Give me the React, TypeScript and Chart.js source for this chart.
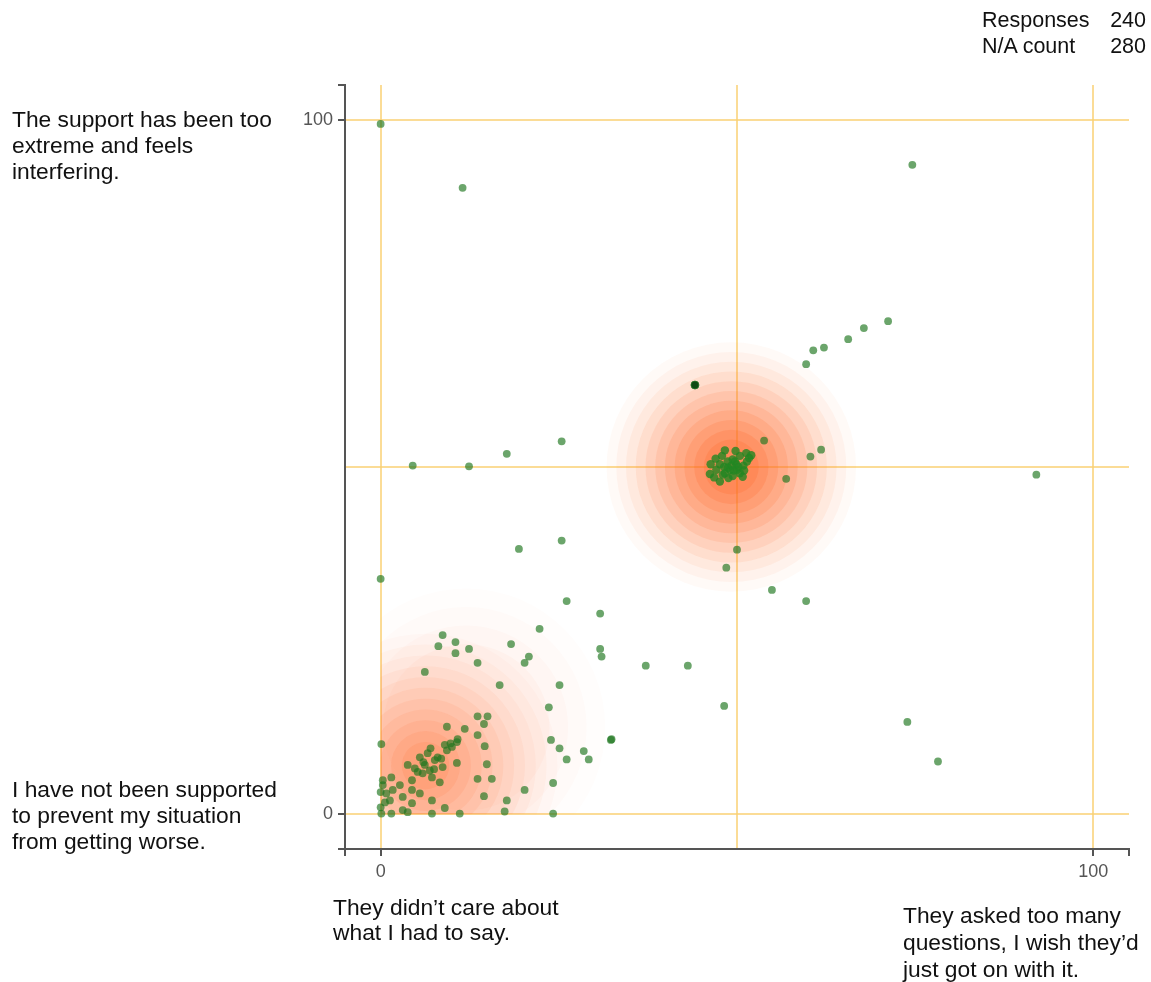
import React, { useEffect, useRef } from "react";
import { Chart, registerables } from "chart.js";

Chart.register(...registerables);

// ---------- data ----------
const spreadX = [0, 11.5, 74.6, 71.2, 67.8, 65.6, 62.2, 60.7, 59.7, 53.8, 61.8, 60.3, 56.9, 50.0, 48.5, 54.9, 59.7, 92.0, 73.9, 78.2, 48.2, 43.1, 37.2, 32.3, 30.8, 30.8, 31.0, 26.1, 25.4, 19.4, 25.4, 17.7, 12.4, 4.5, 0, 22.3, 18.3, 20.8, 20.2, 8.7, 8.1, 10.5, 10.5, 12.4, 13.6, 6.2, 16.7, 25.1, 23.6, 23.9, 25.1, 26.1, 28.5, 29.2, 32.4, 24.2, 20.2, 17.7, 17.4, 24.2];
const spreadY = [99.4, 90.2, 93.5, 71.0, 70.0, 68.4, 67.2, 66.8, 64.8, 53.8, 52.5, 51.5, 48.3, 38.1, 35.5, 32.3, 30.7, 48.9, 13.3, 7.6, 15.6, 21.4, 21.4, 10.7, 28.9, 23.8, 22.7, 30.7, 39.4, 38.2, 53.7, 51.9, 50.1, 50.2, 33.9, 26.7, 24.5, 22.7, 21.8, 25.8, 24.2, 24.8, 23.2, 23.8, 21.8, 20.5, 18.6, 18.6, 15.4, 10.7, 9.5, 7.9, 9.1, 7.9, 10.8, 4.5, 3.5, 2.0, 0.4, 0.1];

const lowClusterX = [13.6, 15.0, 14.5, 9.3, 11.8, 13.6, 10.8, 9.8, 14.6, 0.1, 14.9, 13.6, 15.6, 14.5, 5.2, 5.9, 7.2, 8.3, 7.6, 6.6, 9.3, 10.7, 10.0, 10.7, 8.7, 5.5, 4.4, 3.8, 2.7, 1.5, 0.3, 1.7, 3.1, 4.4, 5.5, 7.2, 4.4, 3.1, 3.8, 7.2, 9.0, 11.1, 1.5, 0.1, 0, 0.6, 0.8, 0, 0.3, 1.3, 6.2, 6.9, 4.8, 8.0, 9.0, 7.0, 6.0, 7.5, 8.5];
const lowClusterY = [14.1, 14.1, 13.0, 12.6, 12.3, 11.4, 10.8, 10.2, 9.8, 10.1, 7.2, 5.1, 5.1, 2.6, 6.1, 5.9, 5.3, 4.6, 7.8, 8.8, 9.2, 10.4, 9.7, 7.4, 6.8, 8.2, 4.9, 7.1, 4.2, 5.3, 4.9, 3.5, 2.5, 3.5, 3.0, 2.0, 1.6, 0.6, 0.3, 0.1, 0.9, 0.1, 0.1, 0.1, 1.0, 1.7, 3.0, 3.2, 4.2, 2.0, 7.1, 6.3, 6.6, 8.2, 10.0, 9.5, 7.5, 6.5, 8.0];

const midClusterX = [49.7, 50.4, 51.3, 48.7, 47.6, 46.3, 46.2, 47.9, 49.0, 50.0, 50.9, 48.3, 49.4, 50.4, 47.6, 51.4, 48.3, 49.2, 49.9, 48.7, 47.1, 51.7, 49.4, 48.8, 50.2, 49.5, 48.2, 47.0, 50.8, 48.0, 49.8, 51.0, 46.8, 52.0];
const midClusterY = [50.8, 51.6, 52.0, 50.8, 50.4, 50.4, 49.0, 51.6, 49.6, 49.6, 50.2, 49.1, 48.7, 49.1, 47.9, 50.8, 52.4, 50.2, 50.4, 49.9, 49.6, 51.3, 51.1, 48.4, 50.0, 49.5, 50.0, 51.2, 48.6, 48.9, 52.3, 49.5, 48.5, 51.7];

const highlightX = [44.1];
const highlightY = [61.8];

// density blobs (centre, radius in x units, ring count, outer/inner alpha, core fraction)
const heatX = [12.0, 6.3, 49.2];
const heatY = [12.5, 7.0, 50.0];
const heatRadius = [19.5, 18.5, 17.5];
const heatRings = [4, 11, 11];
const heatAlphaOuter = [0.015, 0.025, 0.035];
const heatAlphaInner = [0.03, 0.12, 0.2];
const heatCoreFrac = [0.6, 0.18, 0.22];

const tickValues = [0, 50, 100];
const tickLabels = ["0", "", "100"];

const statLabels = ["Responses", "N/A count"];
const statValues = [240, 280];

// ---------- helpers ----------
const toPts = (xs: number[], ys: number[]) => xs.map((x, i) => ({ x, y: ys[i] }));

const heatPlugin = {
  id: "heat",
  beforeDatasetsDraw(chart: any) {
    const { ctx, scales } = chart;
    const xs = scales.x;
    const ys = scales.y;
    const left = xs.getPixelForValue(0);
    const right = xs.getPixelForValue(100);
    const top = ys.getPixelForValue(100);
    const bottom = ys.getPixelForValue(0);
    ctx.save();
    ctx.beginPath();
    ctx.rect(left, top, right - left, bottom - top);
    ctx.clip();
    for (let b = 0; b < heatX.length; b++) {
      const cx = xs.getPixelForValue(heatX[b]);
      const cy = ys.getPixelForValue(heatY[b]);
      const R = xs.getPixelForValue(heatX[b] + heatRadius[b]) - cx;
      const n = heatRings[b];
      for (let i = 0; i < n; i++) {
        const t = n === 1 ? 0 : i / (n - 1);
        const r = R * (1 - t * (1 - heatCoreFrac[b]));
        const a = heatAlphaOuter[b] + (heatAlphaInner[b] - heatAlphaOuter[b]) * t;
        ctx.beginPath();
        ctx.arc(cx, cy, r, 0, Math.PI * 2);
        ctx.fillStyle = `rgba(255,100,35,${a})`;
        ctx.fill();
      }
    }
    ctx.restore();
  },
};

const outerTickPlugin = {
  id: "outerTicks",
  afterDraw(chart: any) {
    const { ctx, chartArea } = chart;
    const { left, right, top, bottom } = chartArea;
    ctx.save();
    ctx.strokeStyle = "#555";
    ctx.lineWidth = 2;
    ctx.beginPath();
    ctx.moveTo(left - 7, top);
    ctx.lineTo(left, top);
    ctx.moveTo(left - 7, bottom);
    ctx.lineTo(left, bottom);
    ctx.moveTo(left, bottom);
    ctx.lineTo(left, bottom + 7);
    ctx.moveTo(right, bottom);
    ctx.lineTo(right, bottom + 7);
    ctx.stroke();
    ctx.restore();
  },
};

const gridColor = "rgba(250,208,115,0.75)";

function axis(isX: boolean) {
  return {
    type: "linear" as const,
    min: -5,
    max: 105,
    afterBuildTicks: (s: any) => {
      s.ticks = tickValues.map((v) => ({ value: v }));
    },
    afterFit: (s: any) => {
      if (isX) s.height = 133;
      else s.width = 345;
    },
    grid: {
      color: gridColor,
      lineWidth: 2,
      drawTicks: true,
      tickLength: 7,
      tickColor: (c: any) => (c.tick && c.tick.value === 50 ? "rgba(0,0,0,0)" : "#555"),
      tickWidth: 2,
    },
    border: { display: true, color: "#555", width: 2 },
    ticks: {
      color: "#555",
      padding: 5,
      font: { family: "'Liberation Sans', Arial, sans-serif", size: 18 },
      callback: (v: any) => tickLabels[tickValues.indexOf(Number(v))] ?? "",
    },
  };
}

export default function App() {
  const ref = useRef<HTMLCanvasElement | null>(null);

  useEffect(() => {
    if (!ref.current) return;
    const pointColor = "rgba(30,118,30,0.66)";
    const chart = new Chart(ref.current, {
      type: "scatter",
      data: {
        datasets: [
          { data: toPts(highlightX, highlightY), backgroundColor: "rgb(15,75,20)", borderColor: "rgba(40,120,40,0.8)", borderWidth: 1, pointRadius: 4 },
          { data: toPts(spreadX, spreadY), backgroundColor: pointColor, borderWidth: 0, pointRadius: 3.9 },
          { data: toPts(lowClusterX, lowClusterY), backgroundColor: pointColor, borderWidth: 0, pointRadius: 3.9 },
          { data: toPts(midClusterX, midClusterY), backgroundColor: "rgba(35,135,35,0.8)", borderWidth: 0, pointRadius: 4.2 },
        ],
      },
      options: {
        animation: false,
        responsive: false,
        devicePixelRatio: 1,
        layout: { padding: { top: 85, right: 22, left: 0, bottom: 0 } },
        plugins: { legend: { display: false }, tooltip: { enabled: false } },
        scales: { x: axis(true), y: axis(false) },
      },
      plugins: [heatPlugin, outerTickPlugin],
    });
    return () => chart.destroy();
  }, []);

  const font = "'Liberation Sans', Arial, sans-serif";
  const textStyle: React.CSSProperties = {
    position: "absolute",
    fontFamily: font,
    fontSize: 22.8,
    lineHeight: "26px",
    color: "#111",
    whiteSpace: "nowrap",
  };

  return (
    <div style={{ position: "relative", width: 1151, height: 982, background: "#fff", overflow: "hidden" }}>
      <style>{`body{margin:0;background:#fff}`}</style>
      <canvas ref={ref} width={1151} height={982} style={{ position: "absolute", left: 0, top: 0, width: 1151, height: 982 }} />
      <div style={{ ...textStyle, left: 12, top: 106 }}>
        The support has been too<br />extreme and feels<br />interfering.
      </div>
      <div style={{ ...textStyle, left: 12, top: 776 }}>
        I have not been supported<br />to prevent my situation<br />from getting worse.
      </div>
      <div style={{ ...textStyle, left: 333, top: 895, lineHeight: "25px" }}>
        They didn’t care about<br />what I had to say.
      </div>
      <div style={{ ...textStyle, left: 903, top: 902, lineHeight: "27px" }}>
        They asked too many<br />questions, I wish they’d<br />just got on with it.
      </div>
      {statLabels.map((l, i) => (
        <div key={l} style={{ ...textStyle, fontSize: 21.5, left: 982, top: 7 + i * 26, width: 164 }}>
          <span>{l}</span>
          <span style={{ position: "absolute", right: 0 }}>{statValues[i]}</span>
        </div>
      ))}
    </div>
  );
}
